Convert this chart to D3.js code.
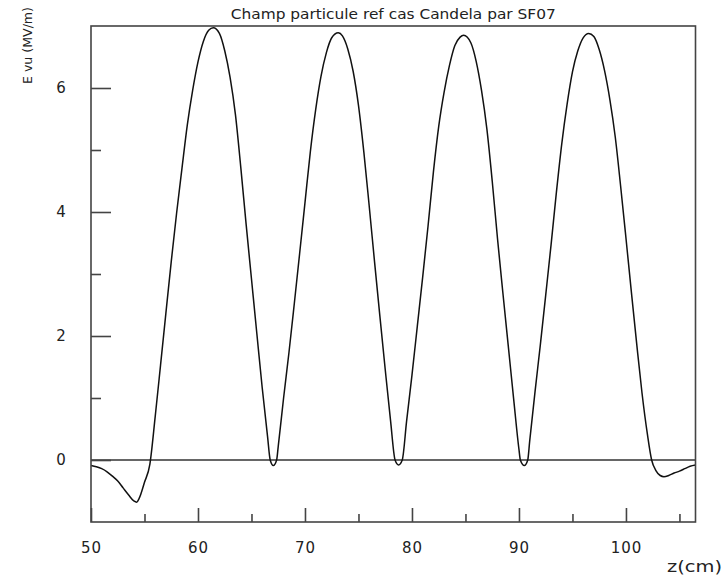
<!DOCTYPE html>
<html>
<head>
<meta charset="utf-8">
<script src="https://cdn.jsdelivr.net/npm/d3@7"></script>
<style>
  html, body { margin: 0; padding: 0; background: #fff; }
  svg { display: block; }
</style>
</head>
<body>
<svg id="chart" width="724" height="579"></svg>
<script>
// ---- data ----
const zValues = [
  50, 50.5, 51, 51.5, 52, 52.5, 53, 53.5, 54, 54.27, 54.5, 55, 55.5,
  56, 56.5, 57, 57.5, 58, 58.5, 59, 59.5, 60, 60.5, 61, 61.43,
  62, 62.5, 63, 63.5, 64, 64.5, 65, 65.5, 66, 66.5, 66.75, 67.04, 67.35,
  67.5, 68, 68.5, 69, 69.5, 70, 70.5, 71, 71.5, 72, 72.5, 73.11,
  73.5, 74, 74.5, 75, 75.5, 76, 76.5, 77, 77.5, 78, 78.42, 78.75, 79.09,
  79.5, 80, 80.5, 81, 81.5, 82, 82.5, 83, 83.5, 84, 84.5, 84.83,
  85.5, 86, 86.5, 87, 87.5, 88, 88.5, 89, 89.5, 90, 90.13, 90.5, 90.82,
  91, 91.5, 92, 92.5, 93, 93.5, 94, 94.5, 95, 95.5, 96, 96.51,
  97, 97.5, 98, 98.5, 99, 99.5, 100, 100.5, 101, 101.5, 102, 102.4,
  102.8, 103.2, 103.55, 104, 104.5, 105, 105.5, 106, 106.5
];
const eValues = [
  -0.09, -0.11, -0.14, -0.19, -0.26, -0.34, -0.45, -0.56, -0.66, -0.68, -0.62, -0.36, -0.07,
  0.70, 1.53, 2.37, 3.20, 3.98, 4.70, 5.40, 5.96, 6.42, 6.75, 6.93, 6.97,
  6.88, 6.60, 6.17, 5.57, 4.72, 3.80, 2.92, 2.04, 1.17, 0.38, 0.0, -0.09, 0.0,
  0.22, 1.00, 1.73, 2.52, 3.33, 4.15, 4.97, 5.65, 6.19, 6.57, 6.81, 6.89,
  6.84, 6.63, 6.27, 5.72, 4.97, 4.10, 3.20, 2.32, 1.46, 0.63, 0.0, -0.08, 0.0,
  0.63, 1.37, 2.16, 2.95, 3.77, 4.64, 5.38, 5.93, 6.36, 6.68, 6.82, 6.85,
  6.73, 6.43, 5.96, 5.34, 4.50, 3.56, 2.69, 1.84, 0.99, 0.17, 0.0, -0.09, 0.0,
  0.30, 1.10, 1.86, 2.66, 3.47, 4.32, 5.10, 5.74, 6.26, 6.60, 6.81, 6.88,
  6.83, 6.62, 6.28, 5.81, 5.21, 4.42, 3.58, 2.72, 1.88, 1.08, 0.42, 0.0,
  -0.17, -0.25, -0.27, -0.25, -0.21, -0.18, -0.14, -0.10, -0.08
];
const xDomain = [50, 106.5];
const yDomain = [-1, 7];
const xMajorTicks = [50, 60, 70, 80, 90, 100];
const xMinorTicks = [55, 65, 75, 85, 95, 105];
const yMajorTicks = [0, 2, 4, 6];
const yMinorTicks = [1, 3, 5];
const titleText = "Champ particule ref cas Candela par SF07";
const yLabelText = "E vu (MV/m)";
const xLabelText = "z(cm)";

// ---- layout ----
const svg = d3.select("#chart");
const m = { left: 91, top: 26, right: 695.5, bottom: 522 };
const x = d3.scaleLinear().domain(xDomain).range([m.left, m.right]);
const y = d3.scaleLinear().domain(yDomain).range([m.bottom, m.top]);
const font = "'DejaVu Sans', sans-serif";
const axisColor = "#444";

svg.append("rect").attr("width", 724).attr("height", 579).attr("fill", "#fff");

// zero line
svg.append("line")
  .attr("x1", x(xDomain[0])).attr("x2", x(xDomain[1]))
  .attr("y1", y(0)).attr("y2", y(0))
  .attr("stroke", "#333").attr("stroke-width", 1.3);

// curve
const pts = zValues.map((z, i) => [z, eValues[i]]);
const line = d3.line().x(d => x(d[0])).y(d => y(d[1])).curve(d3.curveMonotoneX);
svg.append("path").datum(pts)
  .attr("d", line)
  .attr("fill", "none").attr("stroke", "#111").attr("stroke-width", 1.5);

// frame
svg.append("rect")
  .attr("x", m.left).attr("y", m.top)
  .attr("width", m.right - m.left).attr("height", m.bottom - m.top)
  .attr("fill", "none").attr("stroke", axisColor).attr("stroke-width", 1.6);

function styleAxis(g) {
  g.select(".domain").remove();
  g.selectAll(".tick line").attr("stroke", axisColor).attr("stroke-width", 1.6);
  g.selectAll("text").attr("font-family", font).attr("font-size", 15).attr("fill", "#222");
}

// x axis
const gxMajor = svg.append("g").attr("transform", `translate(0,${m.bottom})`)
  .call(d3.axisBottom(x).tickValues(xMajorTicks).tickSizeInner(-14).tickSizeOuter(0).tickPadding(20).tickFormat(d3.format("d")));
styleAxis(gxMajor);
gxMajor.selectAll("text").attr("letter-spacing", 1);
const gxMinor = svg.append("g").attr("transform", `translate(0,${m.bottom})`)
  .call(d3.axisBottom(x).tickValues(xMinorTicks).tickSizeInner(-8).tickSizeOuter(0).tickFormat(""));
styleAxis(gxMinor);

// y axis
const gyMajor = svg.append("g").attr("transform", `translate(${m.left},0)`)
  .call(d3.axisLeft(y).tickValues(yMajorTicks).tickSizeInner(-20).tickSizeOuter(0).tickFormat(d3.format("d")));
styleAxis(gyMajor);
gyMajor.selectAll("text").attr("x", -30).attr("text-anchor", "middle");
const gyMinor = svg.append("g").attr("transform", `translate(${m.left},0)`)
  .call(d3.axisLeft(y).tickValues(yMinorTicks).tickSizeInner(-10).tickSizeOuter(0).tickFormat(""));
styleAxis(gyMinor);

// title
svg.append("text")
  .attr("x", (m.left + m.right) / 2).attr("y", 19)
  .attr("text-anchor", "middle")
  .attr("font-family", font).attr("font-size", 14).attr("fill", "#222")
  .attr("textLength", 325).attr("lengthAdjust", "spacingAndGlyphs")
  .text(titleText);

// y label
svg.append("text")
  .attr("transform", "translate(32,84) rotate(-90)")
  .attr("text-anchor", "start")
  .attr("font-family", font).attr("font-size", 13).attr("fill", "#222")
  .attr("textLength", 77).attr("lengthAdjust", "spacingAndGlyphs")
  .text(yLabelText);

// x label
svg.append("text")
  .attr("x", 667).attr("y", 572)
  .attr("text-anchor", "start")
  .attr("font-family", font).attr("font-size", 15).attr("fill", "#222")
  .attr("textLength", 55).attr("lengthAdjust", "spacingAndGlyphs")
  .text(xLabelText);
</script>
</body>
</html>
